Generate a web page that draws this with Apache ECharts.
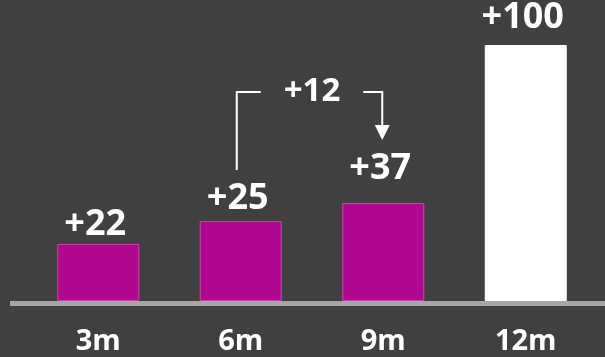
<!DOCTYPE html>
<html>
<head>
<meta charset="utf-8">
<style>
  html, body { margin: 0; padding: 0; background: #404040; }
  #chart { width: 605px; height: 357px; }
</style>
<script src="https://cdn.jsdelivr.net/npm/echarts@6/dist/echarts.min.js"></script>
</head>
<body>
<div id="chart"></div>
<script>
// ---- data ----
const categories = ['3m', '6m', '9m', '12m'];
// bar heights as drawn, on a 0–100 scale (the 12m bar = 100)
const barHeights = [22.3, 31.2, 38.3, 100];
const valueLabels = ['+22', '+25', '+37', '+100'];
const deltaLabel = '+12';

// ---- styling ----
const barFill = ['#b1068f', '#b1068f', '#b1068f', '#ffffff'];
const barBorder = ['#c24aa8', '#c24aa8', '#c24aa8', '#ffffff'];
const labelGap = [1, 4, 16, 9];
const FONT = '"Open Sans", "Noto Sans", sans-serif';

const chart = echarts.init(document.getElementById('chart'), null, { renderer: 'canvas' });

const option = {
  backgroundColor: '#404040',
  animation: false,
  grid: { left: 27, right: 8, top: 45, bottom: 56 },
  xAxis: {
    type: 'category',
    data: categories,
    axisLine: { show: false },
    axisTick: { show: false },
    axisLabel: {
      color: '#ffffff',
      fontFamily: FONT,
      fontWeight: 'bold',
      fontSize: 29,
      margin: 26
    }
  },
  yAxis: {
    type: 'value',
    min: 0,
    max: 100,
    show: false,
    splitLine: { show: false }
  },
  series: [{
    type: 'bar',
    barWidth: 82,
    data: barHeights.map((v, i) => ({
      value: v,
      itemStyle: { color: barFill[i], borderColor: barBorder[i], borderWidth: 1 },
      label: {
        show: true,
        position: 'top',
        distance: labelGap[i],
        formatter: valueLabels[i],
        color: '#ffffff',
        fontFamily: FONT,
        fontWeight: 'bold',
        fontSize: 36,
        offset: [-3, 0]
      }
    }))
  }]
};
chart.setOption(option);

// annotation bracket between 6m and 9m
const c6 = chart.convertToPixel({ xAxisIndex: 0 }, categories[1]);
const c9 = chart.convertToPixel({ xAxisIndex: 0 }, categories[2]);
const topY = 92;
const lineStyle = { stroke: '#ffffff', lineWidth: 2, fill: null };
chart.setOption({
  graphic: [
    { type: 'rect', shape: { x: 10, y: 301, width: 595, height: 5 }, style: { fill: '#a6a6a6' }, z: 10 },
    { type: 'polyline', shape: { points: [[c6 - 4, 170], [c6 - 4, topY], [c6 + 20, topY]] }, style: lineStyle, z: 10 },
    { type: 'polyline', shape: { points: [[c9 - 20, topY], [c9 - 1, topY], [c9 - 1, 126]] }, style: lineStyle, z: 10 },
    { type: 'polygon', shape: { points: [[c9 - 8.5, 125], [c9 + 6.5, 125], [c9 - 1, 140]] }, style: { fill: '#ffffff' }, z: 10 },
    { type: 'text', x: (c6 + c9) / 2, y: 92, style: {
        text: deltaLabel, fill: '#ffffff', font: 'bold 33px ' + FONT,
        align: 'center', verticalAlign: 'middle' }, z: 10 }
  ]
});
</script>
</body>
</html>
